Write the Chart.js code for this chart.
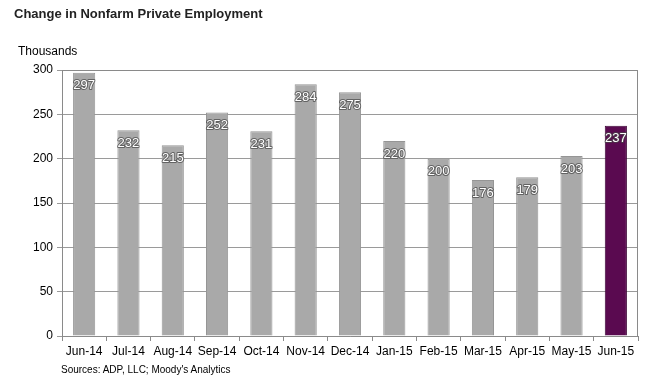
<!DOCTYPE html>
<html><head><meta charset="utf-8">
<script src="https://cdn.jsdelivr.net/npm/chart.js@4"></script>
<style>
html,body{margin:0;padding:0;background:#fff;}
#wrap{position:relative;width:664px;height:381px;overflow:hidden;font-family:Arial,"Liberation Sans",sans-serif;}
canvas{position:absolute;left:0;top:0;}
.t{position:absolute;white-space:nowrap;color:#000;}
</style></head>
<body><div id="wrap">
<canvas id="c" width="664" height="381"></canvas>
<div class="t" style="left:14px;top:6px;font-size:13px;font-weight:bold;color:#222;">Change in Nonfarm Private Employment</div>
<div class="t" style="left:18px;top:44px;font-size:12px;">Thousands</div>
<div class="t" style="left:61px;top:364px;font-size:10px;">Sources: ADP, LLC; Moody's Analytics</div>
</div>
<script>
const categories = ["Jun-14","Jul-14","Aug-14","Sep-14","Oct-14","Nov-14","Dec-14","Jan-15","Feb-15","Mar-15","Apr-15","May-15","Jun-15"];
const values = [297,232,215,252,231,284,275,220,200,176,179,203,237];
const yTicks = [0,50,100,150,200,250,300];

const fills = values.map((v,i)=> i===values.length-1 ? "#5a0a50" : "#a9a9a9");
const borders = values.map((v,i)=> i===values.length-1 ? "#3e0638" : "#959595");

const labelPlugin = {
  id:"labels",
  afterDatasetsDraw(chart){
    const ctx = chart.ctx;
    const meta = chart.getDatasetMeta(0);
    ctx.save();
    ctx.font = "13px Arial";
    ctx.textAlign = "center";
    ctx.textBaseline = "middle";
    meta.data.forEach((bar,i)=>{
      const txt = String(values[i]);
      const x = bar.x, y = bar.y + 13;
      ctx.lineWidth = 2;
      ctx.strokeStyle = "rgba(70,70,70,0.7)";
      ctx.lineJoin = "round";
      ctx.strokeText(txt,x,y);
      ctx.fillStyle = "#fff";
      ctx.fillText(txt,x,y);
    });
    ctx.restore();
  }
};
const borderPlugin = {
  id:"frame",
  beforeDatasetsDraw(chart){
    const a = chart.chartArea, ctx = chart.ctx;
    ctx.save();
    ctx.strokeStyle = "#8a8a8a";
    ctx.lineWidth = 1;
    ctx.beginPath();
    ctx.moveTo(a.left, a.top+0.5);
    ctx.lineTo(a.right-0.5, a.top+0.5);
    ctx.lineTo(a.right-0.5, a.bottom);
    ctx.stroke();
    ctx.restore();
  }
};

new Chart(document.getElementById("c"),{
  type:"bar",
  data:{labels:categories,datasets:[{data:values,backgroundColor:fills,borderColor:borders,borderWidth:1,categoryPercentage:1,barPercentage:0.5}]},
  options:{
    responsive:false,animation:false,
    layout:{padding:{left:0,top:70,right:26,bottom:0}},
    plugins:{legend:{display:false},tooltip:{enabled:false}},
    scales:{
      x:{
        grid:{display:true,drawOnChartArea:false,drawTicks:true,tickLength:5,color:"#8a8a8a",offset:true},
        border:{display:true,color:"#8a8a8a"},
        ticks:{color:"#000",font:{family:"Arial",size:12},maxRotation:0,autoSkip:false,padding:3},
        afterFit(s){s.height=45;}
      },
      y:{
        min:0,max:300,
        afterBuildTicks(s){s.ticks = yTicks.map(v=>({value:v}));},
        grid:{color:"#9a9a9a",drawTicks:true,tickLength:5},
        border:{display:true,color:"#8a8a8a"},
        ticks:{color:"#000",font:{family:"Arial",size:12},padding:4},
        afterFit(s){s.width=62;}
      }
    }
  },
  plugins:[borderPlugin,labelPlugin]
});
</script>
</body></html>
